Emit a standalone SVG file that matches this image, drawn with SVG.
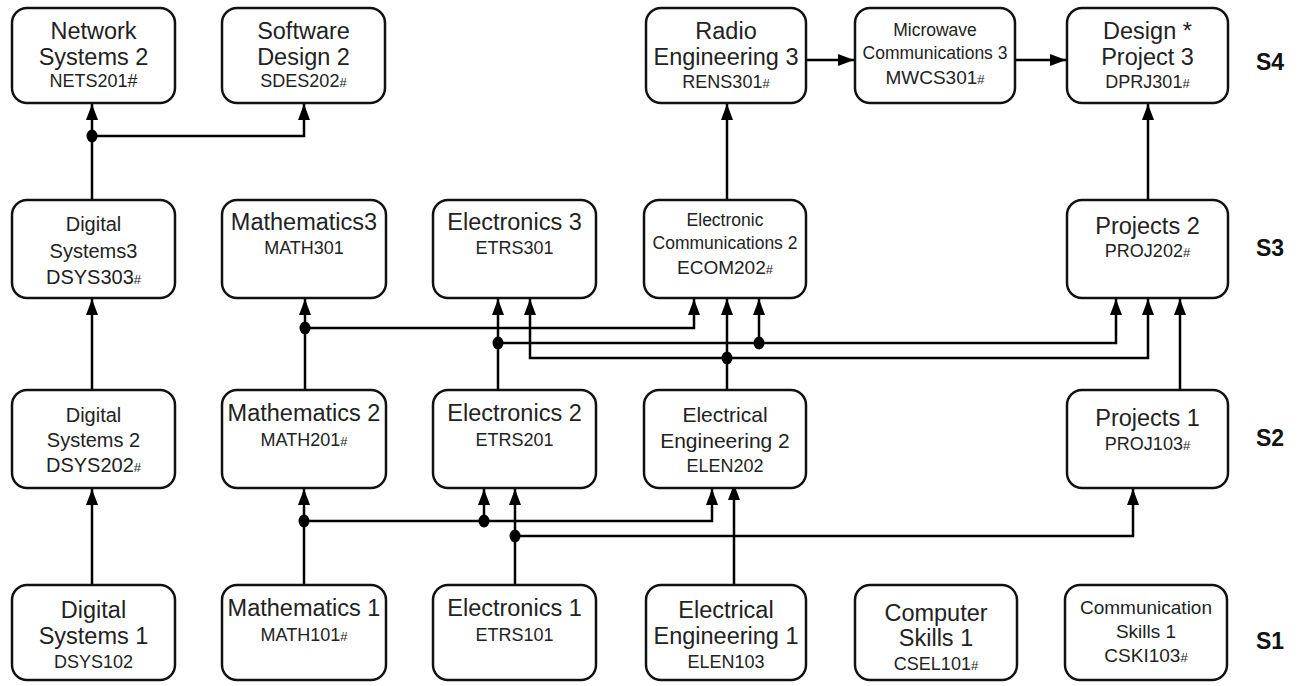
<svg xmlns="http://www.w3.org/2000/svg" width="1303" height="686" viewBox="0 0 1303 686">
<defs>
<marker id="ah" viewBox="0 0 16 12" refX="16" refY="6" markerWidth="16" markerHeight="12" markerUnits="userSpaceOnUse" orient="auto">
<path d="M0,0 L16,6 L0,12 z" fill="#000"/>
</marker>
<style>
.box{fill:#fff;stroke:#111;stroke-width:2.5}
.t{font-family:"Liberation Sans",Arial,sans-serif;fill:#222;text-anchor:middle}
.b{font-size:23.5px}
.m{font-size:20px}
.e{font-size:21px}
.s{font-size:17.5px}
.k{font-size:19px}
.c{font-size:18px}
.h{font-size:13px}
.lbl{font-family:"Liberation Sans",Arial,sans-serif;font-weight:bold;font-size:23px;fill:#111;text-anchor:middle}
.ln{fill:none;stroke:#000;stroke-width:2.5}
.a{marker-end:url(#ah)}
.d{fill:#000}
</style>
</defs>
<rect width="1303" height="686" fill="#fff"/>

<g id="connectors">
<path class="ln a" d="M92,200 V104"/>
<path class="ln a" d="M92,136 H304 V104"/>
<path class="ln a" d="M92,390 V299"/>
<path class="ln a" d="M92,585 V489"/>
<path class="ln a" d="M304,585 V489"/>
<path class="ln a" d="M304,521 H712 V489"/>
<path class="ln a" d="M484,521 V489"/>
<path class="ln a" d="M515,585 V489"/>
<path class="ln a" d="M515,536 H1133 V489"/>
<path class="ln a" d="M734,585 V484"/>
<path class="ln a" d="M305,390 V299"/>
<path class="ln a" d="M305,328 H694 V299"/>
<path class="ln a" d="M498,390 V299"/>
<path class="ln a" d="M498,343 H1116 V299"/>
<path class="ln a" d="M759,343 V299"/>
<path class="ln a" d="M727,390 V299"/>
<path class="ln a" d="M727,358 H530 V299"/>
<path class="ln a" d="M727,358 H1148 V299"/>
<path class="ln a" d="M1180,390 V299"/>
<path class="ln a" d="M727,200 V104"/>
<path class="ln a" d="M1148,200 V104"/>
<path class="ln a" d="M806,60 H854"/>
<path class="ln a" d="M1015,60 H1066"/>
<ellipse class="d" cx="92" cy="136" rx="5.5" ry="6.5"/>
<ellipse class="d" cx="304" cy="521" rx="5.5" ry="6.5"/>
<ellipse class="d" cx="484" cy="521" rx="5.5" ry="6.5"/>
<ellipse class="d" cx="515" cy="536" rx="5.5" ry="6.5"/>
<ellipse class="d" cx="305" cy="328" rx="5.5" ry="6.5"/>
<ellipse class="d" cx="498" cy="343" rx="5.5" ry="6.5"/>
<ellipse class="d" cx="759" cy="343" rx="5.5" ry="6.5"/>
<ellipse class="d" cx="727" cy="358" rx="5.5" ry="6.5"/>
</g>

<g id="nets201">
<rect class="box" x="12" y="8" width="163" height="95" rx="15"/>
<text class="t b" x="93.5" y="39">Network</text>
<text class="t b" x="93.5" y="65">Systems 2</text>
<text class="t c" x="93.5" y="87">NETS201#</text>
</g>
<g id="sdes202">
<rect class="box" x="222" y="8" width="163" height="95" rx="15"/>
<text class="t b" x="303.5" y="39">Software</text>
<text class="t b" x="303.5" y="65">Design 2</text>
<text class="t c" x="303.5" y="87">SDES202<tspan class="h">#</tspan></text>
</g>
<g id="rens301">
<rect class="box" x="646" y="8" width="160" height="95" rx="15"/>
<text class="t b" x="726" y="39">Radio</text>
<text class="t b" x="726" y="65">Engineering 3</text>
<text class="t c" x="726" y="88">RENS301<tspan class="h">#</tspan></text>
</g>
<g id="mwcs301">
<rect class="box" x="855" y="8" width="160" height="95" rx="15"/>
<text class="t s" x="935" y="36">Microwave</text>
<text class="t s" x="935" y="59">Communications 3</text>
<text class="t k" x="935" y="84">MWCS301<tspan class="h">#</tspan></text>
</g>
<g id="dprj301">
<rect class="box" x="1067" y="8" width="161" height="95" rx="15"/>
<text class="t b" x="1147.5" y="39">Design *</text>
<text class="t b" x="1147.5" y="65">Project 3</text>
<text class="t c" x="1147.5" y="88">DPRJ301<tspan class="h">#</tspan></text>
</g>

<g id="dsys303">
<rect class="box" x="12" y="200" width="163" height="98" rx="15"/>
<text class="t m" x="93.5" y="231">Digital</text>
<text class="t m" x="93.5" y="258">Systems3</text>
<text class="t m" x="93.5" y="284">DSYS303<tspan class="h">#</tspan></text>
</g>
<g id="math301">
<rect class="box" x="222" y="200" width="164" height="98" rx="15"/>
<text class="t b" x="304" y="230">Mathematics3</text>
<text class="t c" x="304" y="254">MATH301</text>
</g>
<g id="etrs301">
<rect class="box" x="433" y="200" width="163" height="98" rx="15"/>
<text class="t b" x="514.5" y="230">Electronics 3</text>
<text class="t c" x="514.5" y="254">ETRS301</text>
</g>
<g id="ecom202">
<rect class="box" x="644" y="200" width="162" height="98" rx="15"/>
<text class="t s" x="725" y="226">Electronic</text>
<text class="t s" x="725" y="249">Communications 2</text>
<text class="t k" x="725" y="274">ECOM202<tspan class="h">#</tspan></text>
</g>
<g id="proj202">
<rect class="box" x="1067" y="200" width="161" height="98" rx="15"/>
<text class="t b" x="1147.5" y="234">Projects 2</text>
<text class="t c" x="1147.5" y="257">PROJ202<tspan class="h">#</tspan></text>
</g>

<g id="dsys202">
<rect class="box" x="12" y="390" width="163" height="98" rx="15"/>
<text class="t m" x="93.5" y="422">Digital</text>
<text class="t m" x="93.5" y="447">Systems 2</text>
<text class="t m" x="93.5" y="472">DSYS202<tspan class="h">#</tspan></text>
</g>
<g id="math201">
<rect class="box" x="222" y="390" width="164" height="98" rx="15"/>
<text class="t b" x="304" y="421">Mathematics 2</text>
<text class="t c" x="304" y="446">MATH201<tspan class="h">#</tspan></text>
</g>
<g id="etrs201">
<rect class="box" x="433" y="390" width="163" height="98" rx="15"/>
<text class="t b" x="514.5" y="421">Electronics 2</text>
<text class="t c" x="514.5" y="446">ETRS201</text>
</g>
<g id="elen202">
<rect class="box" x="644" y="390" width="162" height="98" rx="15"/>
<text class="t e" x="725" y="422">Electrical</text>
<text class="t e" x="725" y="448">Engineering 2</text>
<text class="t c" x="725" y="472">ELEN202</text>
</g>
<g id="proj103">
<rect class="box" x="1067" y="390" width="161" height="98" rx="15"/>
<text class="t b" x="1147.5" y="426">Projects 1</text>
<text class="t c" x="1147.5" y="450">PROJ103<tspan class="h">#</tspan></text>
</g>

<g id="dsys102">
<rect class="box" x="12" y="585" width="163" height="95" rx="15"/>
<text class="t b" x="93.5" y="618">Digital</text>
<text class="t b" x="93.5" y="644">Systems 1</text>
<text class="t c" x="93.5" y="668">DSYS102</text>
</g>
<g id="math101">
<rect class="box" x="222" y="585" width="164" height="95" rx="15"/>
<text class="t b" x="304" y="616">Mathematics 1</text>
<text class="t c" x="304" y="641">MATH101<tspan class="h">#</tspan></text>
</g>
<g id="etrs101">
<rect class="box" x="433" y="585" width="163" height="95" rx="15"/>
<text class="t b" x="514.5" y="616">Electronics 1</text>
<text class="t c" x="514.5" y="641">ETRS101</text>
</g>
<g id="elen103">
<rect class="box" x="646" y="585" width="160" height="95" rx="15"/>
<text class="t b" x="726" y="618">Electrical</text>
<text class="t b" x="726" y="644">Engineering 1</text>
<text class="t c" x="726" y="668">ELEN103</text>
</g>
<g id="csel101">
<rect class="box" x="855" y="585" width="162" height="95" rx="15"/>
<text class="t b" x="936" y="621">Computer</text>
<text class="t b" x="936" y="646">Skills 1</text>
<text class="t c" x="936" y="670">CSEL101<tspan class="h">#</tspan></text>
</g>
<g id="cski103">
<rect class="box" x="1065" y="585" width="162" height="95" rx="15"/>
<text class="t k" x="1146" y="614">Communication</text>
<text class="t k" x="1146" y="638">Skills 1</text>
<text class="t k" x="1146" y="662">CSKI103<tspan class="h">#</tspan></text>
</g>

<g id="semester-labels">
<text class="lbl" x="1270" y="70">S4</text>
<text class="lbl" x="1270" y="256">S3</text>
<text class="lbl" x="1270" y="446">S2</text>
<text class="lbl" x="1270" y="649" fill="#333">S1</text>
</g>
</svg>
